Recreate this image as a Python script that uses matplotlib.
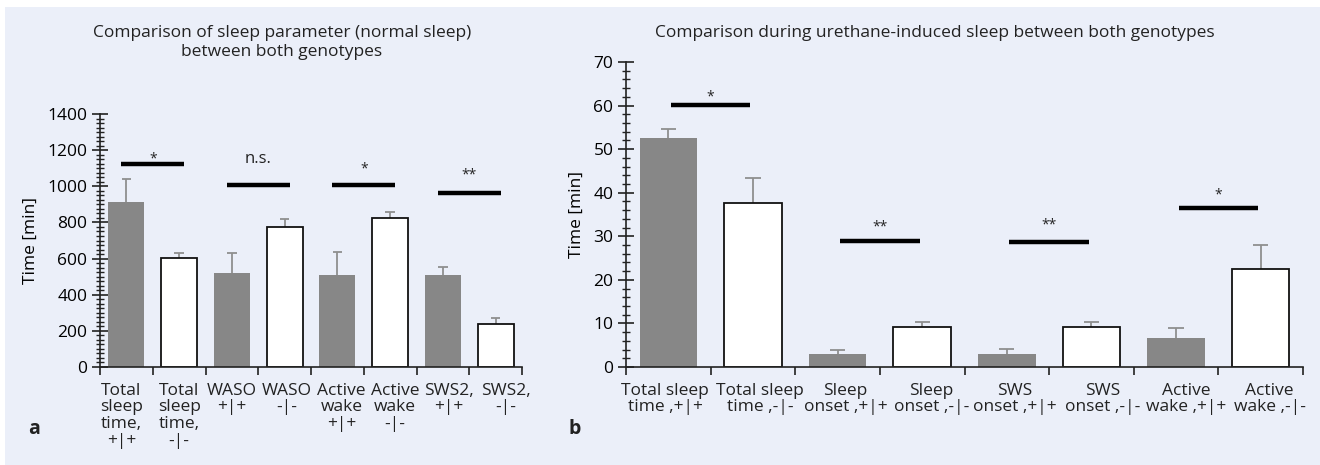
import matplotlib.pyplot as plt
from matplotlib.patches import Rectangle
from matplotlib.ticker import MultipleLocator
from matplotlib.transforms import ScaledTranslation

plt.rcParams['font.family'] = ['Open Sans', 'DejaVu Sans']
plt.rcParams['font.size'] = 12.5

# panel a: normal sleep
labels_a = ['Total\nsleep\ntime,\n+|+', 'Total\nsleep\ntime,\n-|-', 'WASO\n+|+', 'WASO\n-|-',
            'Active\nwake\n+|+', 'Active\nwake\n-|-', 'SWS2,\n+|+', 'SWS2,\n-|-']
means_a = [913, 603, 520, 775, 508, 825, 508, 237]
errs_a = [127, 27, 110, 45, 128, 35, 45, 36]
sig_a = [1122, 1005, 1005, 965]
sig_text_a = ['*', 'n.s.', '*', '**']
sig_text_y_a = [1150, 1150, 1095, 1060]

# panel b: urethane-induced sleep
labels_b = ['Total sleep\ntime ,+|+', 'Total sleep\ntime ,-|-', 'Sleep\nonset ,+|+', 'Sleep\nonset ,-|-',
            'SWS\nonset ,+|+', 'SWS\nonset ,-|-', 'Active\nwake ,+|+', 'Active\nwake ,-|-']
means_b = [52.5, 37.6, 3.0, 9.1, 3.0, 9.1, 6.6, 22.6]
errs_b = [2.2, 5.8, 0.9, 1.3, 1.1, 1.3, 2.4, 5.4]
sig_b = [60.1, 29.0, 28.6, 36.4]
sig_text_y_b = [62.0, 32.2, 32.5, 39.4]
sig_text_b = ['*', '**', '**', '*']

# small horizontal nudges (pixels) of the category labels, as in the original
nudge_a = [-5, 0, 0, 2, 4, 5, 6, 10]
nudge_b = [-3, 7, 8, 9, 8, 11, 10, 9]

gray = '#878787'
bg = '#ebeff9'
ink = '#222222'

fig = plt.figure(figsize=(13.2, 4.65), dpi=100, facecolor='white')
fig.patches.append(Rectangle((5 / 1320, 0), 1, 1 - 7 / 465, transform=fig.transFigure,
                             facecolor=bg, edgecolor='none', zorder=-10))

ax1 = fig.add_axes([100 / 1320, 1 - 367 / 465, 422 / 1320, 253 / 465])
ax2 = fig.add_axes([626 / 1320, 1 - 367 / 465, 677 / 1320, 305 / 465])


def draw_panel(ax, labels, means, errs, sigs, sig_txt, txt_y, ymax, major, minor, x0, x1, nudge):
    n = len(means)
    x = list(range(n))
    colors = [gray if i % 2 == 0 else 'white' for i in x]
    edges = ['none' if i % 2 == 0 else '#111111' for i in x]
    ax.bar(x, means, width=0.68, color=colors, edgecolor=edges, linewidth=1.3, zorder=2)
    # upper error bars only
    tops = [m + e for m, e in zip(means, errs)]
    ax.vlines(x, means, tops, color='#8f8f8f', lw=1.3, zorder=1)
    ax.hlines(tops, [i - 0.09 for i in x], [i + 0.09 for i in x], color='#8f8f8f', lw=1.3, zorder=1)
    for k in range(len(sigs)):
        i = 2 * k
        ax.plot([i + x0, i + 1 + x1], [sigs[k], sigs[k]], color='black', lw=3.2,
                solid_capstyle='butt', zorder=3)
        fs = 12 if sig_txt[k] == 'n.s.' else 10
        ax.text(i + 0.5 + (x0 + x1) / 2, txt_y[k], sig_txt[k], ha='center', va='center',
                fontsize=fs, color=ink)
    ax.set_xlim(-0.5, n - 0.5)
    ax.set_ylim(0, ymax)
    ax.set_facecolor('none')
    for s in ['top', 'right']:
        ax.spines[s].set_visible(False)
    for s in ['left', 'bottom']:
        ax.spines[s].set_color(ink)
        ax.spines[s].set_linewidth(1.2)
    ax.yaxis.set_major_locator(MultipleLocator(major))
    ax.yaxis.set_minor_locator(MultipleLocator(minor))
    ax.tick_params(axis='y', which='major', direction='inout', length=12, width=1.2, color=ink, pad=3)
    ax.tick_params(axis='y', which='minor', direction='inout', length=6, width=1.0, color=ink)
    # boundary ticks on x, category labels written under each bar
    ax.set_xticks([i - 0.5 for i in range(n + 1)])
    ax.set_xticklabels([])
    ax.tick_params(axis='x', direction='out', length=6, width=1.2, color=ink)
    for i, (lab, dx) in enumerate(zip(labels, nudge)):
        tr = ax.get_xaxis_transform() + ScaledTranslation(dx / 100, -0.155, fig.dpi_scale_trans)
        ax.text(i, 0, lab, transform=tr, ha='center', va='top', linespacing=1.08,
                color=ink, multialignment='center')
    ax.set_ylabel('Time [min]', labelpad=6)


draw_panel(ax1, labels_a, means_a, errs_a, sig_a, sig_text_a, sig_text_y_a, 1400, 200, 25, -0.1, 0.1, nudge_a)
draw_panel(ax2, labels_b, means_b, errs_b, sig_b, sig_text_b, sig_text_y_b, 70, 10, 2, 0.03, -0.03, nudge_b)

fig.text(282 / 1320, 1 - 25 / 465, 'Comparison of sleep parameter (normal sleep)\nbetween both genotypes',
         ha='center', va='top', linespacing=1.25, color=ink)
fig.text(935 / 1320, 1 - 25 / 465, 'Comparison during urethane-induced sleep between both genotypes',
         ha='center', va='top', color=ink)
fig.text(28 / 1320, 1 - 434 / 465, 'a', fontsize=14, fontweight='bold', va='baseline', color=ink)
fig.text(569 / 1320, 1 - 434 / 465, 'b', fontsize=14, fontweight='bold', va='baseline', color=ink)

fig.savefig('out.png', dpi=100, facecolor='white')
